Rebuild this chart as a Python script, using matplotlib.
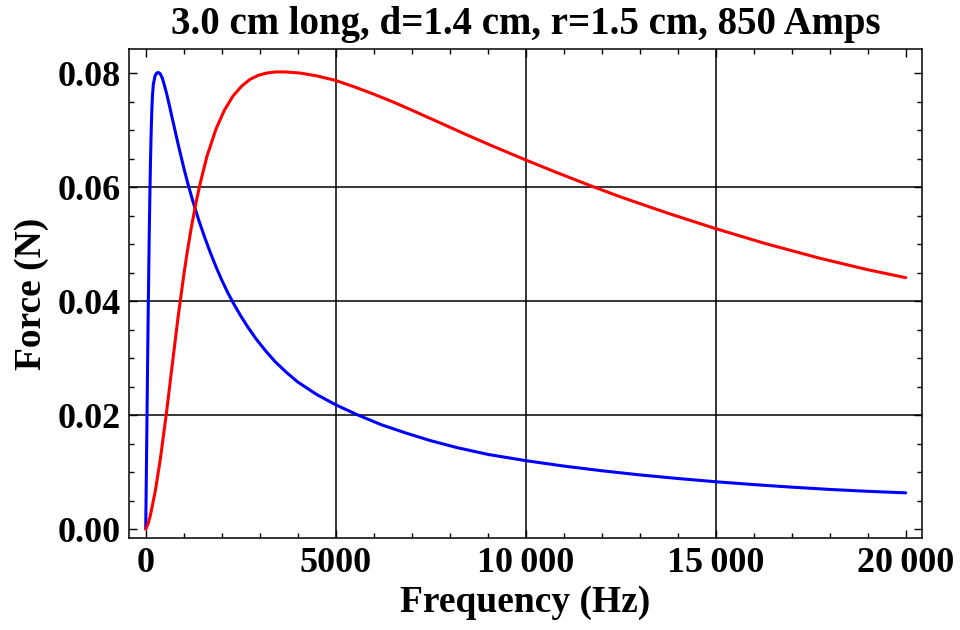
import matplotlib
matplotlib.use("Agg")
import matplotlib.pyplot as plt
from matplotlib.ticker import MultipleLocator, FuncFormatter

# ---- data ----
blue_freq = [0, 17, 34, 50, 68, 90, 110, 125, 140, 158, 175, 200, 245, 290, 332, 380,
             437, 490, 553, 620, 700, 850, 1000, 1121, 1250, 1400, 1550, 1700, 1850,
             2000, 2150, 2300, 2500, 2700, 2900, 3150, 3400, 3700, 4000, 4500, 5000,
             5550, 6200, 6868, 7500, 8184, 9000, 10000, 11000, 12000, 13000, 14000,
             15000, 16000, 17000, 18000, 19000, 20000]
blue_force = [0.0, 0.0100, 0.0200, 0.0295, 0.0395, 0.0505, 0.0590, 0.0643, 0.0688,
              0.0730, 0.0758, 0.0780, 0.0795, 0.0800, 0.0801, 0.0799, 0.0791, 0.0779,
              0.0763, 0.0744, 0.0720, 0.0676, 0.0634, 0.0603, 0.0573, 0.0541, 0.0512,
              0.0485, 0.0460, 0.0437, 0.0416, 0.0397, 0.0374, 0.0353, 0.0334, 0.0313,
              0.0294, 0.0275, 0.0258, 0.0236, 0.0218, 0.0201, 0.0183, 0.0168, 0.0155,
              0.0143, 0.0131, 0.0120, 0.01105, 0.01023, 0.0095, 0.00887, 0.0083,
              0.0078, 0.00735, 0.00695, 0.00662, 0.00635]

red_freq = [0, 60, 122, 250, 385, 550, 705, 850, 1000, 1080, 1200, 1330, 1450, 1612,
            1850, 2072, 2300, 2525, 2745, 2964, 3184, 3425, 3666, 4061, 4500, 5000,
            5500, 6000, 6500, 7000, 7745, 8400, 9061, 10000, 10800, 11692, 12482,
            13700, 15000, 16300, 17745, 19000, 20000]
red_force = [0.0, 0.0009, 0.0024, 0.0066, 0.0123, 0.0206, 0.0292, 0.0371, 0.0445,
             0.0481, 0.0529, 0.0575, 0.0611, 0.0654, 0.0702, 0.0735, 0.0760, 0.0777,
             0.0789, 0.0796, 0.0800, 0.0802, 0.0802, 0.0800, 0.0795, 0.0787, 0.07755,
             0.0763, 0.07495, 0.0735, 0.07127, 0.0693, 0.06738, 0.06475, 0.06259,
             0.06027, 0.0583, 0.0555, 0.0527, 0.0501, 0.0475, 0.0455, 0.0441]

title = "3.0 cm long, d=1.4 cm, r=1.5 cm, 850 Amps"
x_label = "Frequency (Hz)"
y_label = "Force (N)"

plt.rcParams['font.family'] = ['Liberation Serif', 'DejaVu Serif']
plt.rcParams['font.weight'] = 'bold'

fig = plt.figure(figsize=(9.6, 6.3), dpi=100)
ax = fig.add_axes([0.1347, 0.1455, 0.8254, 0.7762])

ax.plot(blue_freq, blue_force, color='#0000ff', lw=2.2, solid_joinstyle='round',
        solid_capstyle='round')
ax.plot(red_freq, red_force, color='#ff0000', lw=2.2, solid_joinstyle='round',
        solid_capstyle='round')

ax.set_xlim(-432, 20421)
ax.set_ylim(-0.00163, 0.08416)

ax.xaxis.set_major_locator(MultipleLocator(5000))
ax.xaxis.set_minor_locator(MultipleLocator(1000))
ax.yaxis.set_major_locator(MultipleLocator(0.02))
ax.yaxis.set_minor_locator(MultipleLocator(0.005))

def xfmt(v, pos):
    v = int(round(v))
    if v >= 10000:
        return f"{v:,}".replace(",", "\u2009")
    return str(v)

ax.xaxis.set_major_formatter(FuncFormatter(xfmt))
ax.yaxis.set_major_formatter(FuncFormatter(lambda v, p: f"{v:.2f}"))

for gx in [5000, 10000, 15000]:
    ax.axvline(gx, color='black', lw=1.1, zorder=0.5)
for gy in [0.02, 0.04, 0.06]:
    ax.axhline(gy, color='black', lw=1.1, zorder=0.5)

ax.tick_params(which='both', direction='in', top=True, right=True, color='black',
               width=1.0)
ax.tick_params(which='major', length=6, labelsize=26, pad=6)
ax.tick_params(which='minor', length=3.5)
for sp in ax.spines.values():
    sp.set_linewidth(1.1)

for lab in ax.get_xticklabels() + ax.get_yticklabels():
    lab.set_fontweight('bold')

ax.set_title(title, fontsize=28, fontweight='bold', pad=11)
ax.set_xlabel(x_label, fontsize=27, fontweight='bold', labelpad=4)
ax.set_ylabel(y_label, fontsize=27, fontweight='bold', labelpad=6)

fig.savefig("out.png", dpi=100)
